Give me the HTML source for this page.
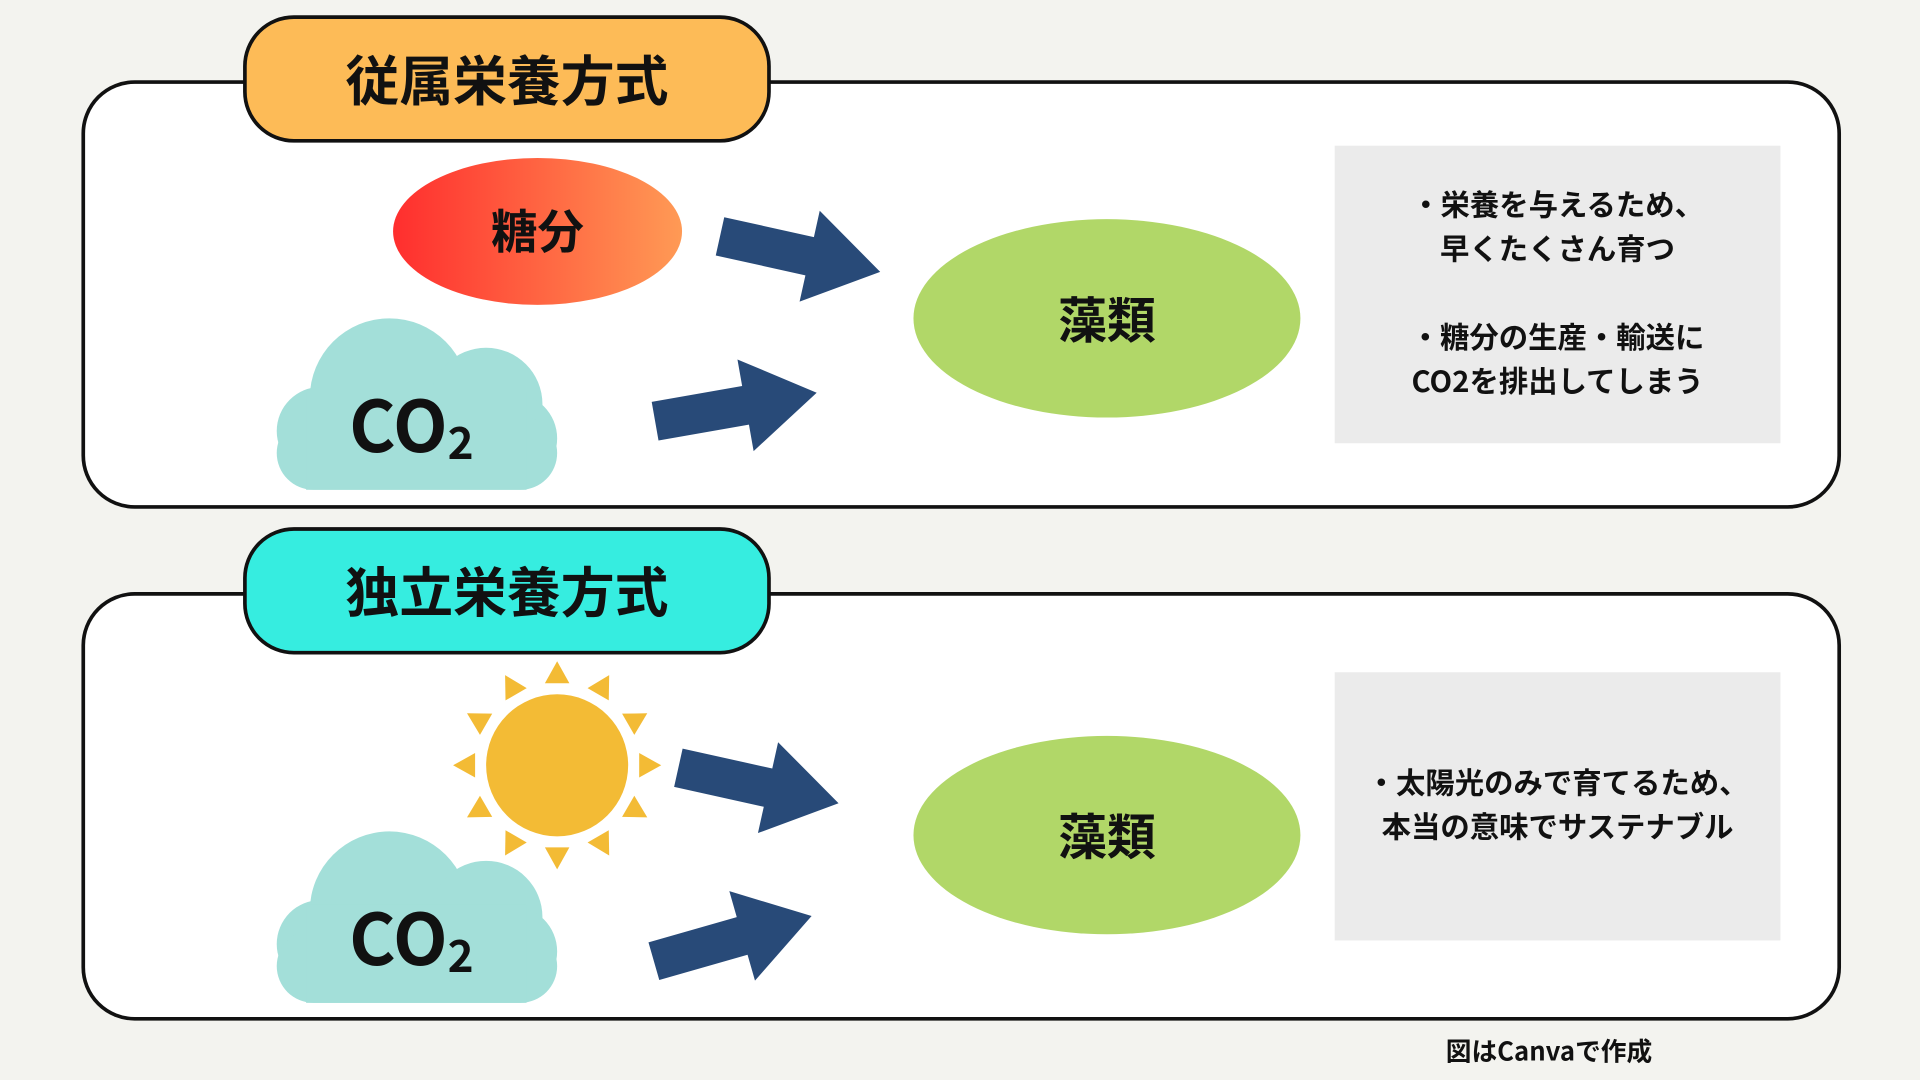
<!DOCTYPE html>
<html><head><meta charset="utf-8"><style>
html,body{margin:0;padding:0;width:1920px;height:1080px;overflow:hidden;background:#f3f3ef}
svg{display:block}
text{font-family:"Noto Sans CJK JP","Liberation Sans",sans-serif;font-weight:bold;fill:#111;text-anchor:middle}
</style></head><body>
<svg width="1920" height="1080" viewBox="0 0 1568 882" xmlns="http://www.w3.org/2000/svg">
<defs>
<linearGradient id="g1" x1="0" x2="1" y1="0" y2="0"><stop offset="0" stop-color="#ff2e2e"/><stop offset="1" stop-color="#ff9a55"/></linearGradient>
<polygon id="arr" points="0,-16 75,-16 75,-38 134,0 75,38 75,16 0,16" fill="#284a78"/>
<g id="cloud" fill="#a3dfd9">
<circle cx="318" cy="325" r="65"/><circle cx="397" cy="330" r="46"/><circle cx="262" cy="352" r="36"/><circle cx="418" cy="358" r="37"/>
<rect x="226" y="340" width="229" height="60" rx="30"/><rect x="250" y="320" width="180" height="80"/>
</g>
</defs>
<rect width="1568" height="882" fill="#f3f3ef"/>
<rect x="68" y="67" width="1434" height="347" rx="42" fill="#fff" stroke="#111" stroke-width="3"/>
<rect x="200" y="14" width="428" height="101" rx="40" fill="#fdbb57" stroke="#111" stroke-width="3"/>
<text x="414" y="82" font-size="44">従属栄養方式</text>
<ellipse cx="439" cy="189" rx="118" ry="60" fill="url(#g1)"/>
<text x="439" y="203" font-size="38">糖分</text>
<use href="#cloud"/>
<text x="336" y="369" font-size="58">CO<tspan font-size="36" dy="6">2</tspan></text>
<use href="#arr" transform="translate(588,193) rotate(12.5)"/>
<use href="#arr" transform="translate(535,344) rotate(-10)"/>
<ellipse cx="904" cy="260" rx="158" ry="81" fill="#b1d768"/>
<text x="904" y="276" font-size="40">藻類</text>
<rect x="1090" y="119" width="364" height="243" fill="#ebebeb"/>
<g font-size="24">
<text x="1272" y="176">・栄養を与えるため、</text>
<text x="1272" y="212">早くたくさん育つ</text>
<text x="1272" y="284">・糖分の生産・輸送に</text>
<text x="1272" y="320">CO2を排出してしまう</text>
</g>
<rect x="68" y="485" width="1434" height="347" rx="42" fill="#fff" stroke="#111" stroke-width="3"/>
<rect x="200" y="432" width="428" height="101" rx="40" fill="#36ede0" stroke="#111" stroke-width="3"/>
<text x="414" y="500" font-size="44">独立栄養方式</text>
<g transform="translate(455,625)" fill="#f3bb35">
<circle r="58"/>
<g id="ray"><polygon points="-10,-67 10,-67 0,-85"/></g>
<use href="#ray" transform="rotate(30)"/><use href="#ray" transform="rotate(60)"/><use href="#ray" transform="rotate(90)"/>
<use href="#ray" transform="rotate(120)"/><use href="#ray" transform="rotate(150)"/><use href="#ray" transform="rotate(180)"/>
<use href="#ray" transform="rotate(210)"/><use href="#ray" transform="rotate(240)"/><use href="#ray" transform="rotate(270)"/>
<use href="#ray" transform="rotate(300)"/><use href="#ray" transform="rotate(330)"/>
</g>
<use href="#cloud" transform="translate(0,419)"/>
<text x="336" y="788" font-size="58">CO<tspan font-size="36" dy="6">2</tspan></text>
<use href="#arr" transform="translate(554,627) rotate(12.5)"/>
<use href="#arr" transform="translate(534,785) rotate(-16)"/>
<ellipse cx="904" cy="682" rx="158" ry="81" fill="#b1d768"/>
<text x="904" y="698" font-size="40">藻類</text>
<rect x="1090" y="549" width="364" height="219" fill="#ebebeb"/>
<g font-size="24">
<text x="1272" y="648">・太陽光のみで育てるため、</text>
<text x="1272" y="684">本当の意味でサステナブル</text>
</g>
<text x="1265" y="866" font-size="21">図はCanvaで作成</text>
</svg>
</body></html>
